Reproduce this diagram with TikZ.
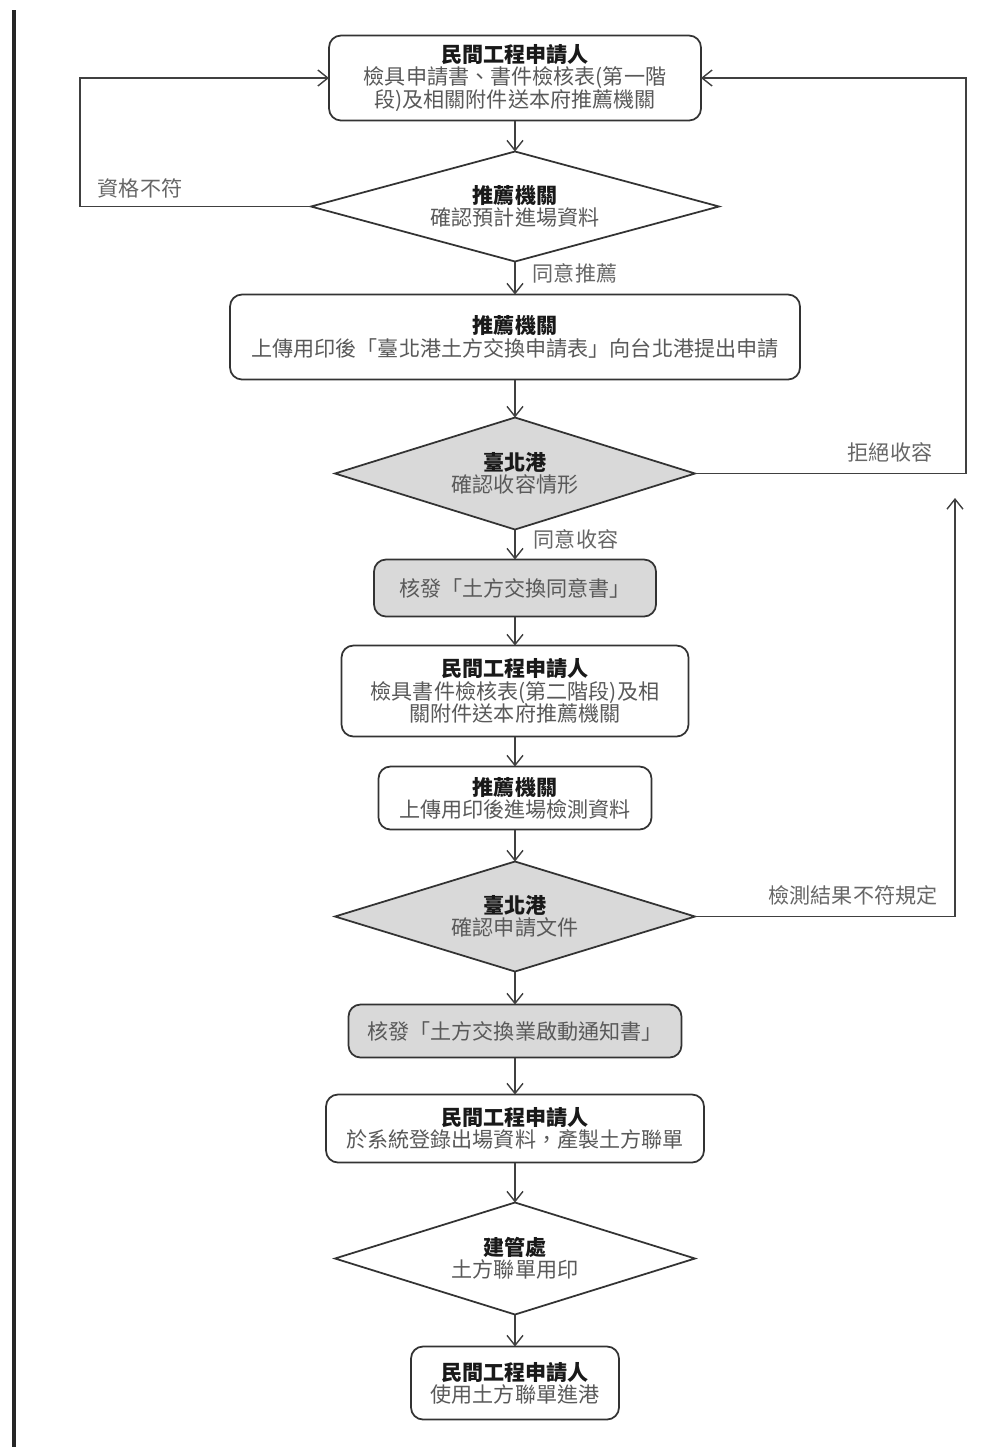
\documentclass[tikz,border=0pt]{standalone}
\usepackage{fontspec}
\setmainfont{Noto Sans CJK TC}
\usetikzlibrary{arrows.meta, calc, positioning, shapes.geometric}

\newcommand{\flowtitle}[1]{{\bfseries\color{black!90}#1}}

\begin{document}
\begin{tikzpicture}[node distance=6mm,font=\fontsize{12}{12.6}\selectfont]
\tikzset{every node/.style={inner sep=1mm, outer sep=0mm}}

\tikzstyle{flow box}=[rectangle,rounded corners=2.4mm,draw=black!80,fill=white,line width=1pt,align=center,text=black!65]
\tikzstyle{issue box}=[flow box,fill=black!15]
\tikzstyle{check}=[diamond,aspect=3.5,draw=black!80,fill=white,line width=1pt,align=center,text=black!65,inner sep=0mm]
\tikzstyle{port check}=[check,fill=black!15]
\tikzstyle{post}=[->, line width=0.8pt, draw=black!75, >={Straight Barb[length=2mm,width=3.2mm]}]
\tikzstyle{note}=[text=black!60]

\useasboundingbox (0,0) rectangle (19.8,-28.94);
\draw[line width=1.8pt, black!85] (0.28,-0.2) -- (0.28,-28.94);

% main column
\node[flow box, minimum width=7.44cm, minimum height=1.7cm] (apply first) at (10.3,-1.56) {\flowtitle{民間工程申請人}\\檢具申請書、書件檢核表(第一階\\段)及相關附件送本府推薦機關};
\node[check, minimum width=8.16cm, minimum height=2.2cm, below=6.2mm of apply first] (agency check) {\flowtitle{推薦機關}\\確認預計進場資料};
\node[flow box, minimum width=11.4cm, minimum height=1.7cm, below=6.6mm of agency check] (agency upload) {\flowtitle{推薦機關}\\上傳用印後「臺北港土方交換申請表」向台北港提出申請};
\node[port check, minimum width=7.2cm, minimum height=2.24cm, below=7.6mm of agency upload] (port capacity) {\flowtitle{臺北港}\\確認收容情形};
\node[issue box, minimum width=5.64cm, minimum height=1.14cm, below=6mm of port capacity] (consent issue) {核發「土方交換同意書」};
\node[flow box, minimum width=6.94cm, minimum height=1.82cm, below=5.8mm of consent issue] (apply second) {\flowtitle{民間工程申請人}\\檢具書件檢核表(第二階段)及相\\關附件送本府推薦機關};
\node[flow box, minimum width=5.46cm, minimum height=1.26cm, below=6mm of apply second] (agency test) {\flowtitle{推薦機關}\\上傳用印後進場檢測資料};
\node[port check, minimum width=7.2cm, minimum height=2.2cm, below=6.4mm of agency test] (port document) {\flowtitle{臺北港}\\確認申請文件};
\node[issue box, minimum width=6.66cm, minimum height=1.06cm, below=6.6mm of port document] (notice issue) {核發「土方交換業啟動通知書」};
\node[flow box, minimum width=7.56cm, minimum height=1.36cm, below=7.4mm of notice issue] (apply record) {\flowtitle{民間工程申請人}\\於系統登錄出場資料，產製土方聯單};
\node[check, minimum width=7.2cm, minimum height=2.24cm, below=8mm of apply record] (office stamp) {\flowtitle{建管處}\\土方聯單用印};
\node[flow box, minimum width=4.16cm, minimum height=1.46cm, below=6.4mm of office stamp] (apply enter) {\flowtitle{民間工程申請人}\\使用土方聯單進港};

% loop-back corners
\coordinate (reject left) at (1.6,0);
\coordinate (reject right) at (19.32,0);
\coordinate (fail up) at (19.1,-9.96);

\path[post] (apply first) edge (agency check);
\path[post] (agency check) edge (agency upload);
\path[post] (agency upload) edge (port capacity);
\path[post] (port capacity) edge (consent issue);
\path[post] (consent issue) edge (apply second);
\path[post] (apply second) edge (agency test);
\path[post] (agency test) edge (port document);
\path[post] (port document) edge (notice issue);
\path[post] (notice issue) edge (apply record);
\path[post] (apply record) edge (office stamp);
\path[post] (office stamp) edge (apply enter);

\draw[post] (agency check.west) -- (agency check.west -| reject left) -- (apply first.west -| reject left) -- (apply first.west);
\draw[post] (port capacity.east) -- (port capacity.east -| reject right) -- (apply first.east -| reject right) -- (apply first.east);
\draw[post] (port document.east) -| (fail up);

\node[note] (fail label) at (2.8,-3.76) {資格不符};
\node[note] (agree label) at (11.5,-5.46) {同意推薦};
\node[note] (refuse label) at (17.8,-9.04) {拒絕收容};
\node[note] (accept label) at (11.52,-10.78) {同意收容};
\node[note] (test label) at (17.06,-17.9) {檢測結果不符規定};

\end{tikzpicture}
\end{document}
